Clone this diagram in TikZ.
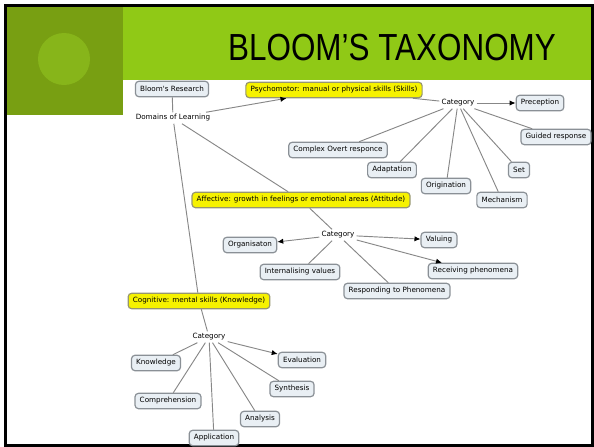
\documentclass[tikz,border=0pt]{standalone}
\usepackage{fontspec}
\setmainfont{Liberation Sans}
\newfontfamily\mapfont{DejaVu Sans}
\usetikzlibrary{arrows.meta}

\definecolor{squaregreen}{RGB}{120,159,18}
\definecolor{bargreen}{RGB}{144,201,22}
\definecolor{dotgreen}{RGB}{135,181,26}
\definecolor{conceptfill}{RGB}{233,239,244}
\definecolor{conceptline}{RGB}{138,144,150}
\definecolor{domainfill}{RGB}{246,242,0}
\definecolor{domainline}{RGB}{150,150,110}
\definecolor{linkgray}{RGB}{135,135,135}

\tikzset{
  concept/.style={draw=conceptline, fill=conceptfill, rounded corners=2.5pt, line width=0.9pt,
    inner xsep=3.5pt, inner ysep=1pt, minimum height=11.5pt, font=\mapfont\fontsize{5.4}{6}\selectfont},
  domainbox/.style={concept, draw=domainline, fill=domainfill},
  linker/.style={inner sep=1.5pt, font=\mapfont\fontsize{5.4}{6}\selectfont},
  link/.style={draw=linkgray, line width=0.7pt},
  arrowlink/.style={link, -{Latex[length=4.5pt,width=4pt,color=black]}}
}

\begin{document}
\begin{tikzpicture}[x=0.75pt,y=0.75pt,yscale=-1,xscale=1]
    \useasboundingbox (0,0) rectangle (594,447);

    %Shape: Rectangle [title bar]
    \fill [bargreen] (123,6) rectangle (592,80);
    %Shape: Rectangle [corner square]
    \fill [squaregreen] (6,6) rectangle (123,115);
    %Shape: Circle
    \fill [dotgreen] (64,59) circle [radius=26];
    %Shape: Rectangle [slide frame]
    \draw [line width=1.6pt] (5.5,5.5) rectangle (592.5,445.5);

    % Text Node
    \node (title) [anchor=base, inner sep=0pt, font=\fontsize{28.3}{30}\selectfont] at (392,60) {\scalebox{0.833}[1]{BLOOM’S TAXONOMY}};

    % Concepts, top
    \node (bloom) [concept] at (172,89) {Bloom's Research};
    \node (domains) [linker] at (173,118) {Domains of Learning};
    \node (psycho) [domainbox] at (334,90) {Psychomotor: manual or physical skills (Skills)};
    \node (catpsy) [linker] at (458,103) {Category};
    \node (preception) [concept] at (540,103) {Preception};
    \node (guided) [concept] at (556,137) {Guided response};
    \node (complex) [concept] at (338,150) {Complex Overt responce};
    \node (adaptation) [concept] at (392,170) {Adaptation};
    \node (origination) [concept] at (446,186) {Origination};
    \node (setskill) [concept] at (519,170) {Set};
    \node (mechanism) [concept] at (502,200) {Mechanism};

    % Concepts, middle
    \node (affect) [domainbox] at (301,200) {Affective: growth in feelings or emotional areas (Attitude)};
    \node (cataff) [linker] at (338,235) {Category};
    \node (organisaton) [concept] at (250,245) {Organisaton};
    \node (valuing) [concept] at (439,240) {Valuing};
    \node (internal) [concept] at (300,272) {Internalising values};
    \node (receiving) [concept] at (473,271) {Receiving phenomena};
    \node (responding) [concept] at (397,291) {Responding to Phenomena};

    % Concepts, bottom
    \node (cognit) [domainbox] at (199,301) {Cognitive: mental skills (Knowledge)};
    \node (catcog) [linker] at (209,337) {Category};
    \node (knowledge) [concept] at (156,363) {Knowledge};
    \node (evaluation) [concept] at (302,360) {Evaluation};
    \node (synthesis) [concept] at (292,389) {Synthesis};
    \node (comprehension) [concept] at (168,401) {Comprehension};
    \node (analysis) [concept] at (260,419) {Analysis};
    \node (application) [concept] at (214,438) {Application};

    % Links
    \draw [link] (bloom) -- (domains);
    \draw [arrowlink] (domains) -- (psycho);
    \draw [link] (domains) -- (affect);
    \draw [link] (domains) -- (cognit);

    \draw [link] (psycho) -- (catpsy);
    \draw [arrowlink] (catpsy) -- (preception);
    \foreach \target in {guided,complex,adaptation,origination,setskill,mechanism}
      \draw [link] (catpsy) -- (\target);

    \draw [link] (affect) -- (cataff);
    \foreach \target in {organisaton,valuing,receiving}
      \draw [arrowlink] (cataff) -- (\target);
    \foreach \target in {internal,responding}
      \draw [link] (cataff) -- (\target);

    \draw [link] (cognit) -- (catcog);
    \draw [arrowlink] (catcog) -- (evaluation);
    \foreach \target in {knowledge,comprehension,application,analysis,synthesis}
      \draw [link] (catcog) -- (\target);

\end{tikzpicture}
\end{document}
